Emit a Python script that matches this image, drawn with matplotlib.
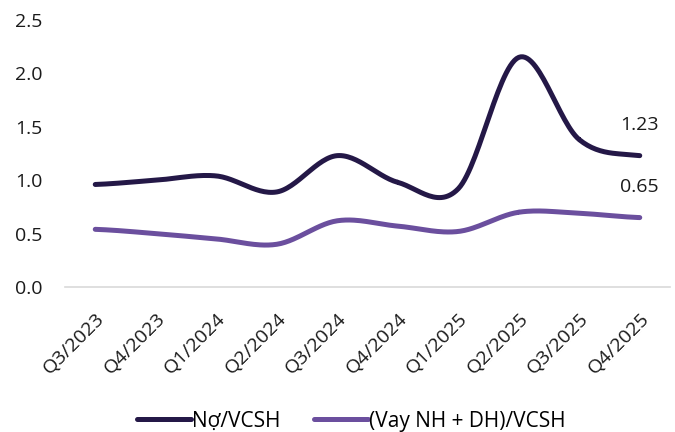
import numpy as np
import matplotlib.pyplot as plt

quarters = ["Q3/2023", "Q4/2023", "Q1/2024", "Q2/2024", "Q3/2024",
            "Q4/2024", "Q1/2025", "Q2/2025", "Q3/2025", "Q4/2025"]
no_vcsh = [0.96, 1.00, 1.04, 0.89, 1.23, 0.98, 0.92, 2.15, 1.38, 1.23]
vay_vcsh = [0.54, 0.50, 0.45, 0.40, 0.62, 0.57, 0.52, 0.70, 0.69, 0.65]

dark = "#241847"
purple = "#6B4F9E"
text_col = "#1a1a1a"


def smooth(y, n=30):
    # catmull-rom smoothing, similar to excel "smoothed line"
    x = np.arange(len(y), dtype=float)
    y = np.asarray(y, dtype=float)
    px = np.concatenate([[2 * x[0] - x[1]], x, [2 * x[-1] - x[-2]]])
    py = np.concatenate([[y[0]], y, [y[-1]]])
    xs, ys = [], []
    t = np.linspace(0, 1, n)
    for i in range(1, len(px) - 2):
        p0, p1, p2, p3 = px[i - 1], px[i], px[i + 1], px[i + 2]
        q0, q1, q2, q3 = py[i - 1], py[i], py[i + 1], py[i + 2]
        xs.append(0.5 * ((2 * p1) + (-p0 + p2) * t + (2 * p0 - 5 * p1 + 4 * p2 - p3) * t**2 + (-p0 + 3 * p1 - 3 * p2 + p3) * t**3))
        ys.append(0.5 * ((2 * q1) + (-q0 + q2) * t + (2 * q0 - 5 * q1 + 4 * q2 - q3) * t**2 + (-q0 + 3 * q1 - 3 * q2 + q3) * t**3))
    return np.concatenate(xs), np.concatenate(ys)


plt.rcParams['font.family'] = ['Open Sans', 'DejaVu Sans']

fig = plt.figure(figsize=(6.75, 4.32), dpi=100)
ax = fig.add_axes([65 / 675, 1 - 287 / 432, 605 / 675, 267 / 432])

x1, y1 = smooth(no_vcsh)
x2, y2 = smooth(vay_vcsh)
ax.plot(x1, y1, color=dark, lw=3.6, solid_capstyle='round', label="Nợ/VCSH")
ax.plot(x2, y2, color=purple, lw=3.6, solid_capstyle='round', label="(Vay NH + DH)/VCSH")

ax.text(9, no_vcsh[-1] + 0.285, f"{no_vcsh[-1]:.2f}", ha='center', va='center', fontsize=14, color=text_col)
ax.text(9, vay_vcsh[-1] + 0.285, f"{vay_vcsh[-1]:.2f}", ha='center', va='center', fontsize=14, color=text_col)

ax.set_xlim(-0.5, 9.5)
ax.set_ylim(0, 2.5)
ax.set_yticks(np.arange(0, 2.51, 0.5))
ax.set_yticklabels([f"{v:.1f}" for v in np.arange(0, 2.51, 0.5)], fontsize=14, color=text_col)
ax.set_xticks(range(len(quarters)))
ax.set_xticklabels(quarters, rotation=45, ha='right', rotation_mode='anchor', fontsize=14, color=text_col)
ax.tick_params(axis='y', length=0, pad=16)
ax.tick_params(axis='x', length=0, pad=16)
for s in ['top', 'right', 'left']:
    ax.spines[s].set_visible(False)
ax.spines['bottom'].set_color('#d9d9d9')
ax.spines['bottom'].set_linewidth(1.2)

fig.legend(loc='center', ncol=2, frameon=False, fontsize=15, handlelength=2.6,
           handletextpad=0.05, columnspacing=1.6, bbox_to_anchor=(0.52, 1 - 421 / 432))

fig.savefig("out.png", dpi=100)
